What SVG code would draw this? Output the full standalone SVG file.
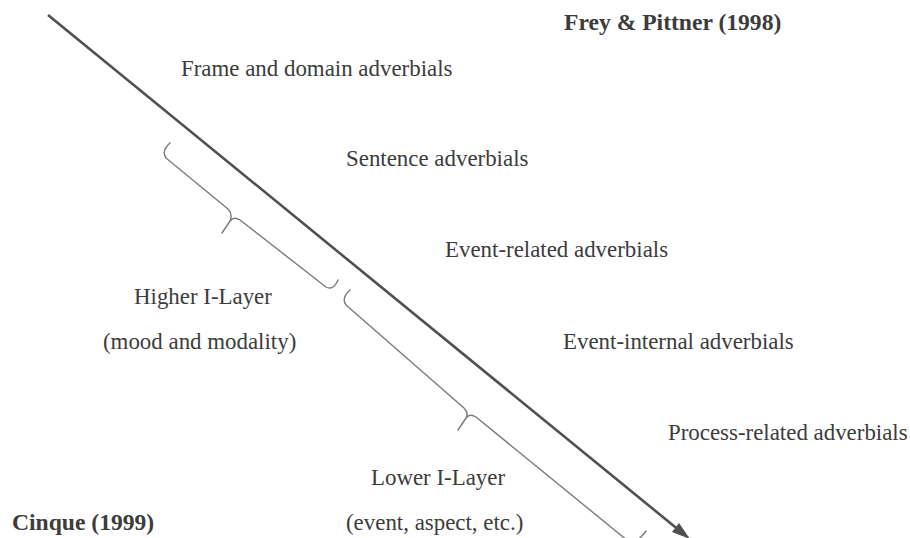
<svg xmlns="http://www.w3.org/2000/svg" width="910" height="538" viewBox="0 0 910 538">
<style>
text{font-family:"Liberation Serif","Times New Roman",serif;font-size:22.9px;fill:#3c3c3c}
.b{font-weight:bold;font-size:23.6px}
.main{stroke:#505050;stroke-width:2.6;fill:none}
.br{stroke:#7a7a7a;stroke-width:1.4;fill:none;stroke-linecap:round;stroke-linejoin:round}
</style>
<rect width="910" height="538" fill="#ffffff"/>
<g id="connectors">
<line class="main" x1="48" y1="15" x2="680" y2="531"/>
<path d="M690,539 L672,532 L679,523 Z" fill="#505050"/>
</g>
<g id="bracket-higher">
<path class="br" d="M170,143 Q161,151 166,158 L228,209 Q233,214 230,221 L222,233 M230,221 Q234,216 240,220 L326,287 Q333,291 338,280"/>
</g>
<g id="bracket-lower">
<path class="br" d="M350,290 Q341,298 346,305 L464,408 Q469,413 466,418 L458,430 M466,418 Q470,413 476,417 L628,541 Q636,545 646,531"/>
</g>
<g id="frey"><text class="b" x="564" y="30">Frey &amp; Pittner (1998)</text></g>
<g id="frame"><text x="181" y="76">Frame and domain adverbials</text></g>
<g id="sentence"><text x="346" y="166">Sentence adverbials</text></g>
<g id="event-related"><text x="445" y="257">Event-related adverbials</text></g>
<g id="higher"><text x="134" y="304">Higher I-Layer</text><text x="103" y="349">(mood and modality)</text></g>
<g id="event-internal"><text x="563" y="349">Event-internal adverbials</text></g>
<g id="process"><text x="668" y="440">Process-related adverbials</text></g>
<g id="lower"><text x="371" y="485">Lower I-Layer</text><text x="346" y="530">(event, aspect, etc.)</text></g>
<g id="cinque"><text class="b" x="12" y="530">Cinque (1999)</text></g>
</svg>
